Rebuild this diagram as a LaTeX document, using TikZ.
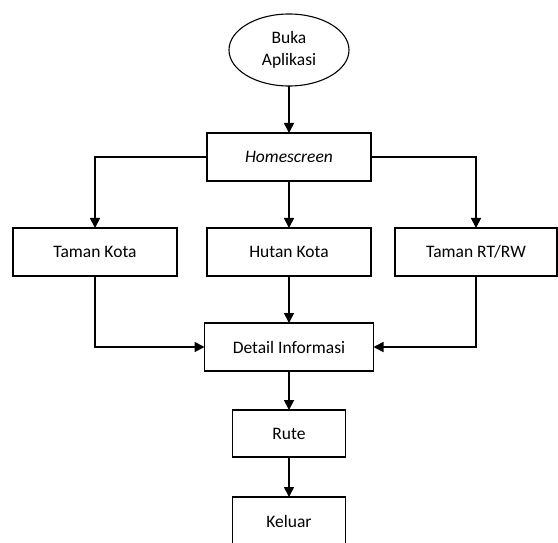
\documentclass[tikz,border=0pt]{standalone}
\usepackage{fontspec}
\setmainfont{Carlito}
\usetikzlibrary{arrows.meta,shapes.geometric}
\begin{document}
\begin{tikzpicture}[x=1pt,y=-1pt,
  box/.style={draw,line width=1.1pt,minimum height=48pt,inner sep=0pt,outer sep=0pt,font=\fontsize{17.5}{21}\selectfont},
  conn/.style={line width=1.6pt,-{Triangle[width=10pt,length=10pt]}}]
\useasboundingbox (0,0) rectangle (558,543);
\clip (0,0) rectangle (558,543);
\node[draw,ellipse,line width=1.1pt,minimum width=120pt,minimum height=72pt,inner sep=0pt,outer sep=0pt,align=center,font=\fontsize{17.5}{22}\selectfont] (start) at (289,50) {Buka\\Aplikasi};
\node[box,minimum width=164pt] (home) at (289,157) {\itshape Homescreen};
\node[box,minimum width=164pt] (tk) at (95,252) {Taman Kota};
\node[box,minimum width=164pt] (hk) at (289,252) {Hutan Kota};
\node[box,minimum width=162pt] (rt) at (476,252) {Taman RT/RW};
\node[box,minimum width=169pt] (det) at (289,347) {Detail Informasi};
\node[box,minimum width=113pt,minimum height=47pt] (rute) at (289,433.5) {Rute};
\node[box,minimum width=113pt] (kel) at (289,521) {Keluar};
\draw[conn] (start) -- (home);
\draw[conn] (home.west) -| (tk.north);
\draw[conn] (home.south) -- (hk.north);
\draw[conn] (home.east) -| (rt.north);
\draw[conn] (tk.south) |- (det.west);
\draw[conn] (hk.south) -- (hk.south |- det.north);
\draw[conn] (rt.south) |- (det.east);
\draw[conn] (det.south) -- (rute.north);
\draw[conn] (rute.south) -- (kel.north);
\end{tikzpicture}
\end{document}
